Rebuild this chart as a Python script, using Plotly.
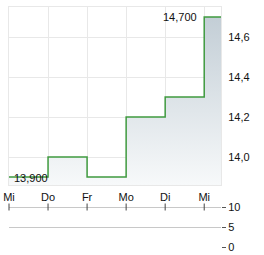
import plotly.graph_objects as go
from plotly.subplots import make_subplots

day_labels = ["Mi", "Do", "Fr", "Mo", "Di", "Mi"]
day_pos = [0, 1, 2, 3, 4, 5]
prices = [13.9, 14.0, 13.9, 14.2, 14.3, 14.7]
y_ticks = [14.0, 14.2, 14.4, 14.6]
vol_ticks = [0, 5, 10]

X_MAX = 5.43
Y_MIN, Y_MAX = 13.86, 14.75
PLOT_H = 241

fig = make_subplots(rows=2, cols=1, shared_xaxes=False,
                    row_heights=[0.74, 0.26], vertical_spacing=0.0)

xs = day_pos + [X_MAX]
ys = prices + [prices[-1]]

fig.add_trace(go.Scatter(
    x=xs, y=ys, mode="lines", line_shape="hv",
    line=dict(color="#3f9a3f", width=1.5),
    fill="tozeroy",
    fillgradient=dict(type="vertical", start=Y_MIN, stop=max(prices),
                      colorscale=[[0, "rgb(247,249,250)"], [1, "rgb(195,206,214)"]]),
    hoverinfo="skip", showlegend=False), row=1, col=1)

# small day tick marks on the top line of the volume panel
fig.add_trace(go.Scatter(x=day_pos, y=[max(vol_ticks)] * len(day_pos), mode="markers",
                         marker=dict(symbol="line-ns", size=5,
                                     line=dict(color="#444", width=1)),
                         hoverinfo="skip", showlegend=False, cliponaxis=False), row=2, col=1)

font = dict(family="Liberation Sans, Arial, sans-serif", size=11, color="#111")

imax = prices.index(max(prices))
fig.add_annotation(x=day_pos[imax], y=prices[imax], text="14,700", showarrow=False,
                   xanchor="right", yanchor="middle", xshift=-5, font=font, xref="x", yref="y")
imin = 0
fig.add_annotation(x=day_pos[imin], y=prices[imin], text="13,900", showarrow=False,
                   xanchor="left", yanchor="middle", xshift=3, yshift=-1, font=font, xref="x", yref="y")

fig.update_layout(
    width=264, height=255, margin=dict(l=9, r=43, t=7, b=7, autoexpand=False),
    paper_bgcolor="white", plot_bgcolor="white",
    separators=",.", font=font, showlegend=False,
    xaxis=dict(domain=[0, 1], range=[0, X_MAX], tickvals=day_pos, ticktext=day_labels,
               showgrid=True, gridcolor="#e8e8e8", gridwidth=1, automargin=False,
               showline=True, mirror=True, linecolor="#e8e8e8", linewidth=1,
               ticks="outside", ticklen=2, tickcolor="rgba(0,0,0,0)",
               zeroline=False, tickfont=font, fixedrange=True),
    yaxis=dict(domain=[(248 - 185) / PLOT_H, 1], range=[Y_MIN, Y_MAX], side="right",
               tickvals=y_ticks, tickformat=".1f", automargin=False,
               showgrid=True, gridcolor="#e8e8e8", gridwidth=1,
               showline=True, mirror=True, linecolor="#e8e8e8", linewidth=1,
               ticks="outside", ticklen=4, tickcolor="rgba(0,0,0,0)",
               zeroline=False, tickfont=font, fixedrange=True),
    xaxis2=dict(domain=[0, 1], range=[0, X_MAX], tickvals=day_pos, showticklabels=False,
                automargin=False,
                ticks="", showgrid=False, showline=False, zeroline=False, fixedrange=True,
                anchor="y2"),
    yaxis2=dict(domain=[0, 45 / PLOT_H], range=[-0.25, 11], side="right", tickvals=vol_ticks,
                automargin=False,
                showgrid=True, gridcolor="#c8c8c8", gridwidth=1,
                ticks="outside", ticklen=4, tickcolor="#555",
                showline=False, zeroline=False, tickfont=font, fixedrange=True,
                anchor="x2"),
)

fig.write_html("out.html")
